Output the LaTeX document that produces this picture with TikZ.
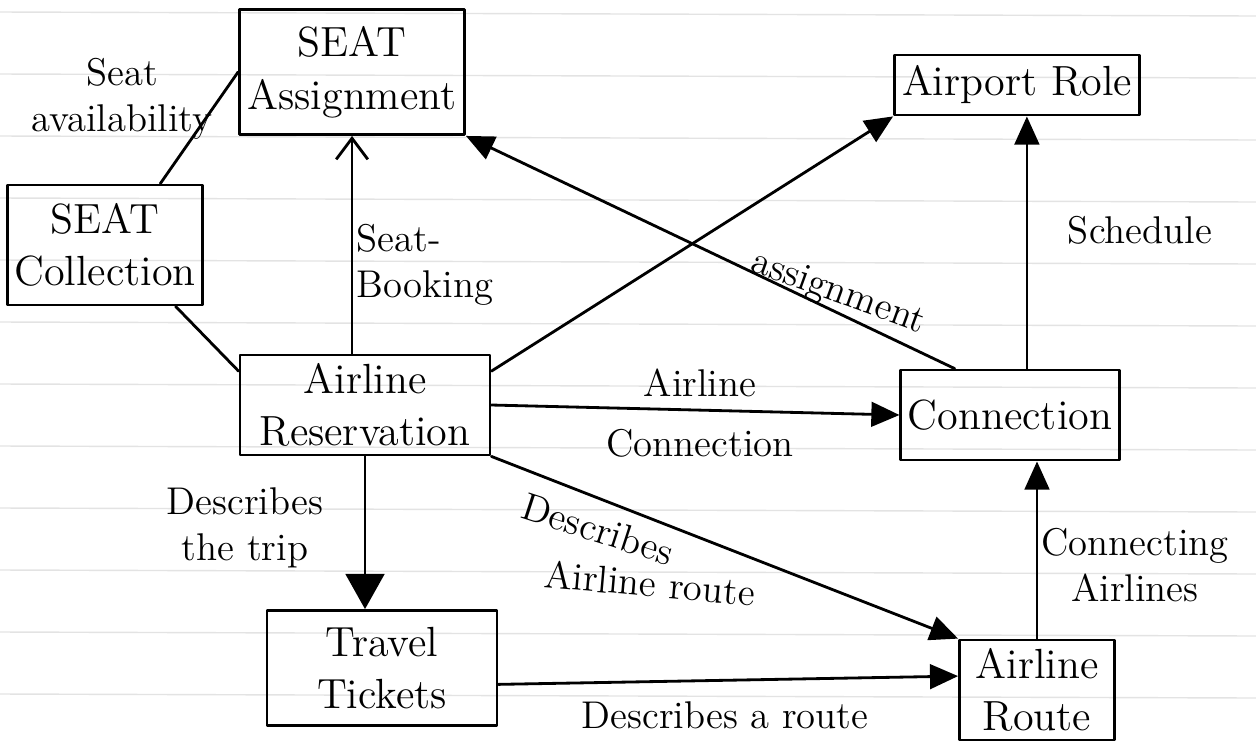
\documentclass[tikz,border=0pt]{standalone}
\usetikzlibrary{arrows.meta}
\begin{document}
\begin{tikzpicture}[line join=round, line cap=round, >={Triangle[length=8pt,width=7pt]}, thick,
	box/.style={draw, thick, align=center, inner sep=2pt, font=\fontsize{12}{15}\selectfont},
	lab/.style={align=center, font=\fontsize{11}{13}\selectfont}]
	\useasboundingbox (0,0) rectangle (12.56,7.49);
	% ruled paper
	\foreach \k in {0,...,11} \draw[gray!22, thin] (0,7.37-0.62*\k) -- (12.56,7.33-0.62*\k);
	% boxes
	\node[box, minimum width=2.25cm, minimum height=1.25cm] (seatA) at (3.52,6.77) {SEAT\\Assignment};
	\node[box, minimum width=1.9cm, minimum height=1.2cm] (seatC) at (1.05,5.04) {SEAT\\Collection};
	\node[box, minimum width=2.45cm, minimum height=0.6cm] (airport) at (10.17,6.64) {Airport Role};
	\node[box, minimum width=2.5cm, minimum height=1.0cm] (reserv) at (3.65,3.44) {Airline\\Reservation};
	\node[box, minimum width=2.1cm, minimum height=0.9cm] (conn) at (10.10,3.34) {Connection};
	\node[box, minimum width=2.3cm, minimum height=1.15cm] (tickets) at (3.82,0.81) {Travel\\Tickets};
	\node[box, minimum width=1.55cm, minimum height=1.0cm] (route) at (10.37,0.59) {Airline\\Route};
	% connectors
	\draw (seatC.48) -- (seatA.west);
	\draw (seatC.-41) -- (reserv.165);
	\draw[-{Straight Barb[length=6pt,width=9pt]}] (reserv.north -| seatA.south) -- (seatA.south);
	\draw[->] (reserv.15) -- (airport.south west);
	\draw[->] (conn.140) -- (seatA.south east);
	\draw[->] (reserv.east) -- (conn.west);
	\draw[->] (conn.70) -- (conn.70 |- airport.south);
	\draw[->] (route.north) -- (route.north |- conn.south);
	\draw[-{Triangle[length=10pt,width=11pt]}] (reserv.south) -- (reserv.south |- tickets.north);
	\draw[->] (reserv.south east) -- (route.north west);
	\draw[->] (tickets.-8) -- (route.170);
	% labels
	\node[lab] (lAvail) at (1.22,6.50) {Seat\\availability};
	\node[lab, align=left] (lBook) at (4.25,4.84) {Seat-\\Booking};
	\node[lab, rotate=-20] (lAssign) at (8.38,4.55) {assignment};
	\node[lab] (lAirConn) at (7.00,3.36) {Airline\\[4pt]Connection};
	\node[lab] (lSched) at (11.40,5.19) {Schedule};
	\node[lab] (lConnAir) at (11.35,1.84) {Connecting\\Airlines};
	\node[lab] (lTrip) at (2.45,2.21) {Describes\\the trip};
	\node[lab, rotate=-18] (lDesc) at (5.98,2.20) {Describes};
	\node[lab, rotate=-5] (lAirRoute) at (6.50,1.66) {Airline route};
	\node[lab] (lARoute) at (7.25,0.34) {Describes a route};
\end{tikzpicture}
\end{document}
